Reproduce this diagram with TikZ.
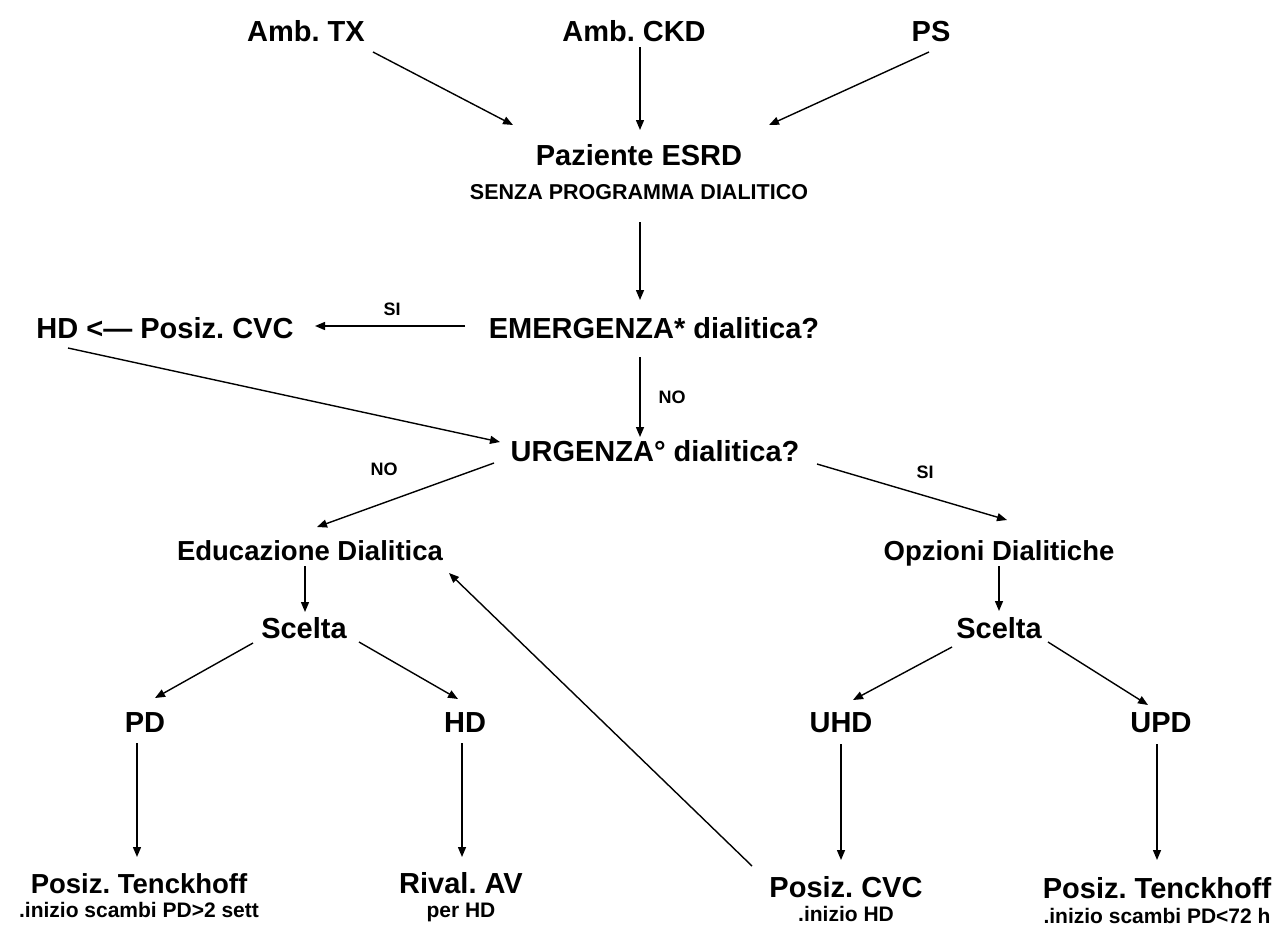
\documentclass[tikz,border=0pt]{standalone}
\usepackage{fontspec}
\setmainfont{Liberation Sans}
\usetikzlibrary{arrows.meta,calc}
\frenchspacing
\begin{document}
\begin{tikzpicture}[x=1pt,y=-1pt,
  main/.style={inner sep=0pt, text height=20.8pt, text depth=0pt, font=\frenchspacing\fontsize{29}{34}\selectfont\bfseries},
  mainn/.style={inner sep=0pt, text height=20pt, text depth=0pt, font=\frenchspacing\fontsize{27.5}{33}\selectfont\bfseries},
  subt/.style={inner sep=0pt, text height=15pt, text depth=0pt, font=\frenchspacing\fontsize{21}{25}\selectfont\bfseries},
  small/.style={inner sep=0pt, text height=13pt, text depth=0pt, font=\fontsize{18}{22}\selectfont\bfseries},
  arr/.style={line width=1.4pt, -{Triangle[length=10pt,width=8pt]}}]
\useasboundingbox (0,0) rectangle (1282,930);
% nodes
\node[main] (tx) at (306,31) {Amb. TX};
\node[main] (ckd) at (634,31) {Amb. CKD};
\node[main] (ps) at (931,31) {PS};
\node[main] (paz) at (639,155) {Paziente ESRD};
\node[inner sep=0pt, text height=15.4pt, text depth=0pt, font=\fontsize{21.5}{26}\selectfont\bfseries] (senza) at (639,192) {SENZA PROGRAMMA DIALITICO};
\node[main] (emer) at (654,328) {EMERGENZA* dialitica?};
\node[main] (cvc1) at (165,328) {HD <— Posiz. CVC};
\node[small] (si1) at (392,309) {SI};
\node[small] (no1) at (672,397) {NO};
\node[main] (urg) at (655,451) {URGENZA° dialitica?};
\node[small] (no2) at (384,469) {NO};
\node[small] (si2) at (925,472) {SI};
\node[mainn] (edu) at (310,550) {Educazione Dialitica};
\node[mainn] (opz) at (999,550) {Opzioni Dialitiche};
\node[main] (sc1) at (304,628) {Scelta};
\node[main] (sc2) at (999,628) {Scelta};
\node[main] (pd) at (145,722) {PD};
\node[main] (hd) at (465,722) {HD};
\node[main] (uhd) at (841,722) {UHD};
\node[main] (upd) at (1161,722) {UPD};
\node[mainn] (tk1) at (139,883) {Posiz. Tenckhoff};
\node[subt] (sub1) at (139,910) {.inizio scambi PD>2 sett};
\node[main] (av) at (461,883) {Rival. AV};
\node[subt] (sub2) at (461,910) {per HD};
\node[main] (cvc2) at (846,887) {Posiz. CVC};
\node[subt] (sub3) at (846,914) {.inizio HD};
\node[main] (tk2) at (1157,888) {Posiz. Tenckhoff};
\node[subt] (sub4) at (1157,916) {.inizio scambi PD<72 h};
% connectors
\draw[arr] ($(tx.center)+(67,21)$) -- ($(paz.center)+(-126,-30)$);
\draw[arr] ($(ckd.center)+(6,16)$) -- ($(paz.center)+(1,-25)$);
\draw[arr] ($(ps.center)+(-2,21)$) -- ($(paz.center)+(130,-30)$);
\draw[arr] ($(senza.center)+(1,30)$) -- ($(emer.center)+(-14,-28)$);
\draw[arr] ($(emer.center)+(-189,-2)$) -- ($(cvc1.center)+(150,-2)$);
\draw[arr] ($(emer.center)+(-14,29)$) -- ($(urg.center)+(-15,-14)$);
\draw[arr] ($(cvc1.center)+(-97,20)$) -- ($(urg.center)+(-155,-9)$);
\draw[arr] ($(urg.center)+(-161,12)$) -- ($(edu.center)+(7,-23)$);
\draw[arr] ($(urg.center)+(162,13)$) -- ($(opz.center)+(8,-30)$);
\draw[arr] ($(edu.center)+(-5,16)$) -- ($(sc1.center)+(1,-16)$);
\draw[arr] ($(opz.center)+(0,16)$) -- ($(sc2.center)+(0,-17)$);
\draw[arr] ($(sc1.center)+(-51,15)$) -- ($(pd.center)+(10,-24)$);
\draw[arr] ($(sc1.center)+(55,14)$) -- ($(hd.center)+(-7,-23)$);
\draw[arr] ($(sc2.center)+(-47,19)$) -- ($(uhd.center)+(12,-22)$);
\draw[arr] ($(sc2.center)+(49,14)$) -- ($(upd.center)+(-13,-17)$);
\draw[arr] ($(pd.center)+(-8,21)$) -- ($(tk1.center)+(-2,-26)$);
\draw[arr] ($(hd.center)+(-3,21)$) -- ($(av.center)+(1,-26)$);
\draw[arr] ($(uhd.center)+(0,22)$) -- ($(cvc2.center)+(-5,-27)$);
\draw[arr] ($(upd.center)+(-4,22)$) -- ($(tk2.center)+(0,-28)$);
\draw[arr] ($(cvc2.center)+(-94,-21)$) -- ($(edu.center)+(139,23)$);
\end{tikzpicture}
\end{document}
